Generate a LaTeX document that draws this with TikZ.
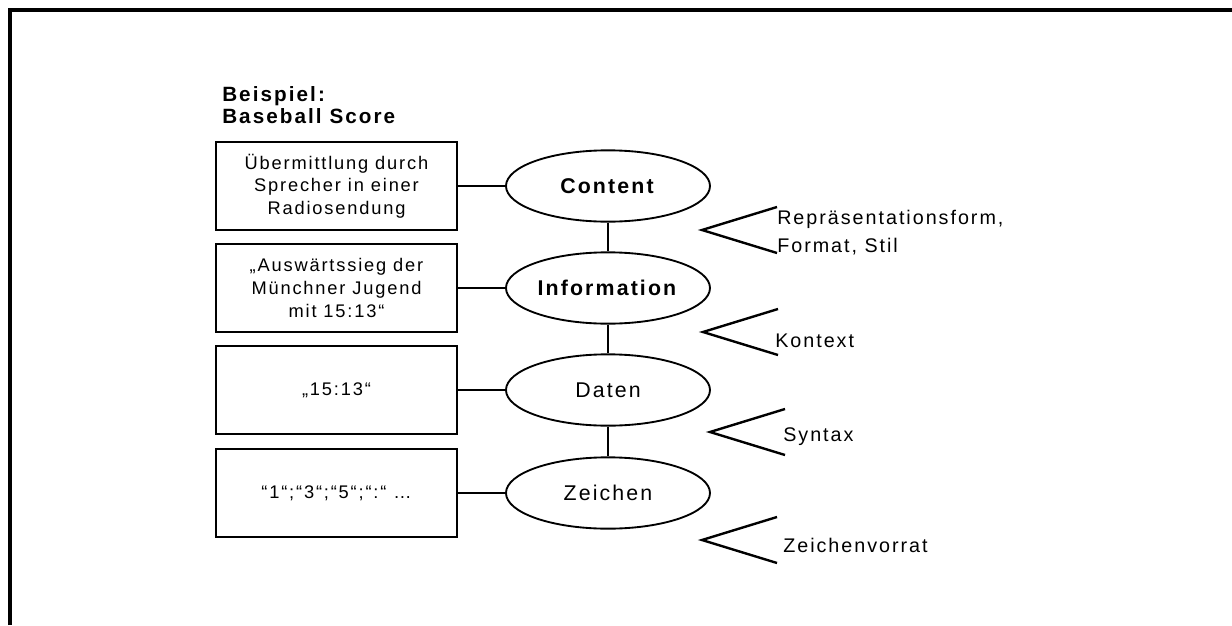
\documentclass[tikz,border=0pt]{standalone}
\usepackage{fontspec}
\setmainfont{Liberation Sans}[LetterSpace=10]
\usetikzlibrary{positioning,shapes}

\begin{document}
\begin{tikzpicture}[x=0.75pt, y=-0.75pt, box/.style={draw, line width=1.4pt, minimum width=180.75pt, minimum height=66pt, align=center, font=\fontsize{13.7}{16.9}\selectfont}, ell/.style={draw, ellipse, line width=1.4pt, inner sep=0pt, minimum width=153pt, minimum height=53.5pt, font=\fontsize{16}{18}\selectfont}, chev/.style={line width=1.8pt}, lbl/.style={anchor=base west, inner sep=0pt, align=left, font=\fontsize{14.8}{20.3}\selectfont}]
\useasboundingbox (0,0) rectangle (1232,625);
\draw[line width=2.3pt] (10,625) -- (10,10) -- (1232,10);
\node[anchor=base west, inner sep=0pt, align=left, font=\fontsize{15.5}{16.3}\selectfont\bfseries] (title) at (222,123) {Beispiel:\\Baseball Score};
\foreach \i/\y/\txt/\lab in {1/186/{Übermittlung durch\\Sprecher in einer\\Radiosendung}/{\textbf{Content}}, 2/288/{„Auswärtssieg der\\Münchner Jugend\\mit 15:13“}/{\textbf{Information}}, 3/390/{„15:13“}/{Daten}, 4/493/{“1“;“3“;“5“;“:“ …}/{Zeichen}}{
  \node[box] (b\i) at (336.5,\y) {\txt};
  \node[ell] (e\i) at (608,\y) {\lab};
  \draw[line width=1.4pt] (b\i) -- (e\i);}
\foreach \i in {1,2,3}{\pgfmathtruncatemacro{\j}{\i+1}\draw[line width=1.4pt] (e\i) -- (e\j);}
% Kennzeichnung der Uebergaenge
\foreach \x/\y in {702/230, 703/332, 710/432, 702/540}{\draw[chev] (\x+75,\y-23) -- (\x,\y) -- (\x+75,\y+23);}
\node[lbl] (rep) at (777,252) {Repräsentationsform,\\Format, Stil};
\node[lbl] (kon) at (775,347) {Kontext};
\node[lbl] (syn) at (783,441) {Syntax};
\node[lbl] (zv) at (783,552) {Zeichenvorrat};
\end{tikzpicture}
\end{document}
